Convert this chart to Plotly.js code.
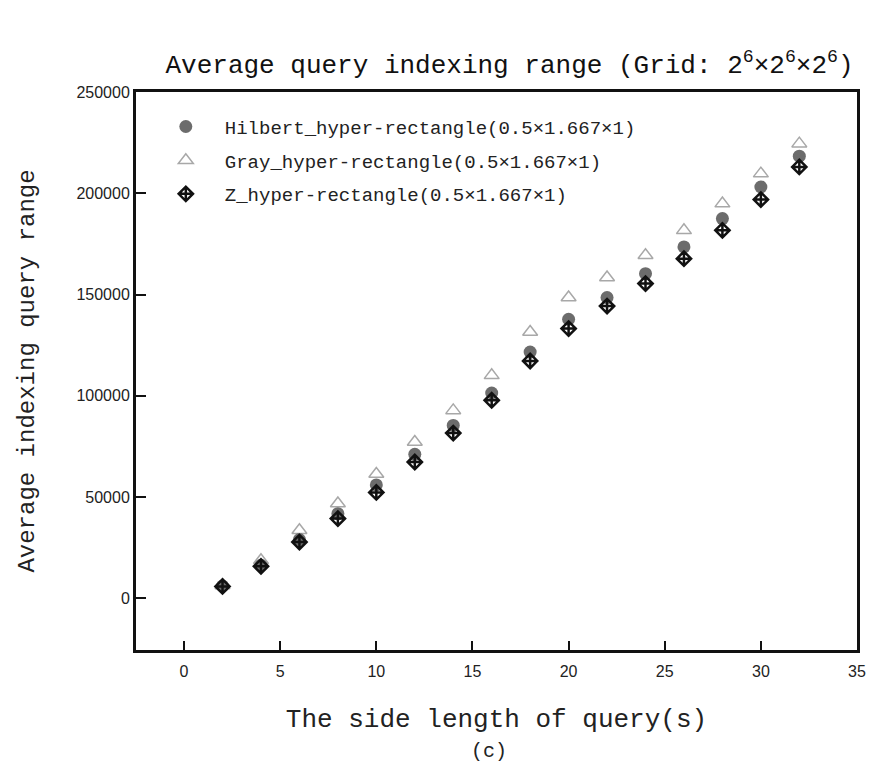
<!DOCTYPE html>
<html>
<head>
<meta charset="utf-8">
<script src="https://cdn.plot.ly/plotly-3.0.1.min.js"></script>
<style>html,body{margin:0;padding:0;background:#fff;}#chart{width:871px;height:777px;}</style>
</head>
<body>
<div id="chart"></div>
<script>
const sideLength = [2, 4, 6, 8, 10, 12, 14, 16, 18, 20, 22, 24, 26, 28, 30, 32];
const hilbertRange = [6100, 16300, 29000, 41800, 56000, 71100, 85400, 101400, 121600, 137800, 148500, 160300, 173500, 187500, 203100, 218300];
const grayRange = [6400, 18800, 33600, 46800, 61400, 77200, 92800, 110100, 131500, 148500, 158400, 169400, 181700, 194900, 209700, 224500];
const zRange = [5900, 15800, 27800, 39400, 52300, 67300, 81600, 97800, 117200, 133200, 144300, 155400, 167700, 181700, 196900, 213000];
const seriesNames = ["Hilbert_hyper-rectangle(0.5×1.667×1)", "Gray_hyper-rectangle(0.5×1.667×1)", "Z_hyper-rectangle(0.5×1.667×1)"];
const xTicks = [0, 5, 10, 15, 20, 25, 30, 35];
const yTicks = [0, 50000, 100000, 150000, 200000, 250000];

const mono = "Liberation Mono, Courier New, monospace";
const sans = "Liberation Sans, Arial, sans-serif";

const traces = [
  {x: sideLength, y: grayRange, name: seriesNames[1], type: "scatter", mode: "markers", legendrank: 2, legendgroup: "g",
   marker: {symbol: "triangle-up-open", size: 13, color: "#a8a8a8", line: {width: 1.5, color: "#a8a8a8"}}},
  {x: sideLength, y: hilbertRange, name: seriesNames[0], type: "scatter", mode: "markers", legendrank: 1, legendgroup: "h",
   marker: {symbol: "circle", size: 13, color: "#6c6c6c"}},
  {x: sideLength, y: zRange, name: seriesNames[2], type: "scatter", mode: "markers", legendrank: 3, legendgroup: "z",
   marker: {symbol: "diamond-cross-open", size: 11, color: "#111", line: {width: 2.5, color: "#111"}}}
];

const layout = {
  width: 871, height: 777,
  margin: {l: 136, r: 14, t: 92, b: 127},
  paper_bgcolor: "#fff", plot_bgcolor: "#fff",
  showlegend: true,
  title: {text: "Average query indexing range (Grid: 2<sup>6</sup>×2<sup>6</sup>×2<sup>6</sup>)",
          font: {family: mono, size: 26, color: "#111"}, x: 0.585, xanchor: "center", y: 0.918, yanchor: "middle"},
  xaxis: {
    range: [-2.5, 35], tickvals: xTicks, ticktext: xTicks.map(String),
    ticks: "inside", ticklen: 9, tickwidth: 2, tickcolor: "#111",
    showline: true, linewidth: 3, linecolor: "#111", mirror: true,
    showgrid: false, zeroline: false, ticklabelstandoff: 5,
    tickfont: {family: sans, size: 16, color: "#222"},
    title: {text: "The side length of query(s)", font: {family: mono, size: 26, color: "#222"}, standoff: 30}
  },
  yaxis: {
    range: [-25500, 250000], tickvals: yTicks, ticktext: yTicks.map(String),
    ticks: "inside", ticklen: 10, tickwidth: 2, tickcolor: "#111",
    showline: true, linewidth: 3, linecolor: "#111", mirror: true,
    showgrid: false, zeroline: false,
    tickfont: {family: sans, size: 16, color: "#222"},
    title: {text: "Average indexing query range", font: {family: mono, size: 24, color: "#222"}, standoff: 36}
  },
  legend: {x: 0.015, y: 0.972, xanchor: "left", yanchor: "top", bgcolor: "rgba(0,0,0,0)",
           traceorder: "grouped", tracegroupgap: 6,
           font: {family: mono, size: 19, color: "#222"}, itemwidth: 68},
  annotations: [
    {text: "(c)", xref: "paper", yref: "paper", x: 0.49, y: -0.182, xanchor: "center", yanchor: "middle",
     showarrow: false, font: {family: mono, size: 20, color: "#222"}}
  ]
};

Plotly.newPlot("chart", traces, layout, {displayModeBar: false, staticPlot: true});
</script>
</body>
</html>
